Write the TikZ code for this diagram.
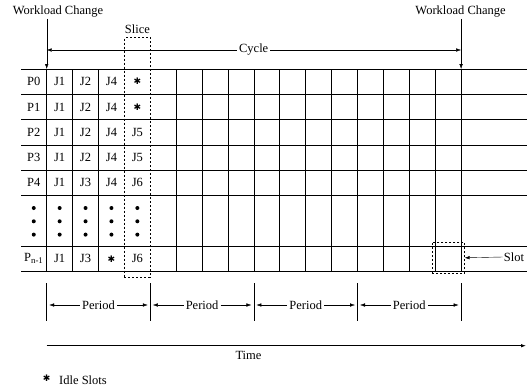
\documentclass[tikz,border=0pt]{standalone}
\usepackage{fontspec}
\setmainfont{Liberation Serif}
\newfontfamily\symfont{DejaVu Sans}
\usetikzlibrary{arrows.meta, positioning, calc}

\newcommand{\idle}{{\symfont\fontsize{9}{9}\selectfont ✱}}

\begin{document}
\begin{tikzpicture}[
  x=1pt, y=-1pt,
  font=\fontsize{12.5}{14}\selectfont,
  >={Latex[length=5pt, width=3.5pt]},
  every node/.style={align=center, inner sep=1pt},
  grid/.style={line width=0.7pt},
  dashbox/.style={draw, line width=0.7pt, dash pattern=on 2pt off 2pt},
  lbl/.style={fill=white, inner sep=2pt},
]
\useasboundingbox (0,0) rectangle (527,391);

% column and row corners
\coordinate (top0) at (46.7,69);
\coordinate (top16) at (461.1,69);

% make grid
\foreach \j in {0,...,5,7,8}
  \draw[grid] (21,{69+\j*25.3}) -- (527,{69+\j*25.3});
\foreach \k in {0,1,2,5,6,...,16}
  \draw[grid] ({46.7+\k*25.9},69) -- ({46.7+\k*25.9},271.4);

% cells
\foreach \row/\txt in {0/{P0,J1,J2,J4,\idle}, 1/{P1,J1,J2,J4,\idle},
                       2/{P2,J1,J2,J4,J5}, 3/{P3,J1,J2,J4,J5},
                       4/{P4,J1,J3,J4,J6}, 7/{P\textsubscript{n-1},J1,J3,\idle,J6}}
  \foreach \t [count=\k from -1] in \txt
    \node (c\row-\k) at ({46.7+(\k+0.5)*25.9},{69+(\row+0.5)*25.3}) {\t};

% dots
\foreach \k in {-1,...,3}
  \foreach \d in {-1,0,1}
    \fill ({46.7+(\k+0.5)*25.9},{221.3+\d*13.3}) circle (2pt);

% slice and slot
\node [dashbox, minimum width=25.9pt, minimum height=239.3pt, inner sep=0pt] (slice) at (137.4,157.35) {};
\node (slice_lbl) at (137.4,29) {Slice};
\node [dashbox, minimum width=32pt, minimum height=31pt, inner sep=0pt] (slot) at (448.3,257.8) {};
\node (slot_lbl) at (514,257) {Slot};
\draw[->] (slot_lbl.west) -- (slot.east);

% workload change and cycle
\node (wl_left) at (58,12) {Workload Change};
\node (wl_right) at (460.6,12) {Workload Change};
\draw[->] (wl_left.south -| top0) -- (top0);
\draw[->] (wl_right.south -| top16) -- (top16);
\draw[<->] (top0 |- 0,50) -- (top16 |- 0,50);
\node [lbl] (cycle_lbl) at (253.7,50) {Cycle};

% periods
\foreach \k in {0,4,8,12,16}
  \draw[grid] ({46.7+\k*25.9},283) coordinate (b\k) -- ({46.7+\k*25.9},321);
\foreach \p [evaluate=\p as \a using int(4*\p), evaluate=\p as \b using int(4*\p+4)] in {0,...,3} {
  \node [lbl] (period\p) at ({46.7+(4*\p+2)*25.9},305) {Period};
  \draw[->] (period\p.west) -- ([xshift=2.5pt]b\a |- period\p.west);
  \draw[->] (period\p.east) -- ([xshift=-2.5pt]b\b |- period\p.east);
}

% time
\coordinate (time_end) at (526,345.7);
\draw[->, line width=0.8pt] (top0 |- time_end) -- (time_end);
\node (time_lbl) at (248.5,355) {Time};

% legend
\node (idle_mark) at (46.7,378) {\idle};
\node (idle_lbl) [anchor=west] at (58,380.5) {Idle Slots};

\end{tikzpicture}
\end{document}
